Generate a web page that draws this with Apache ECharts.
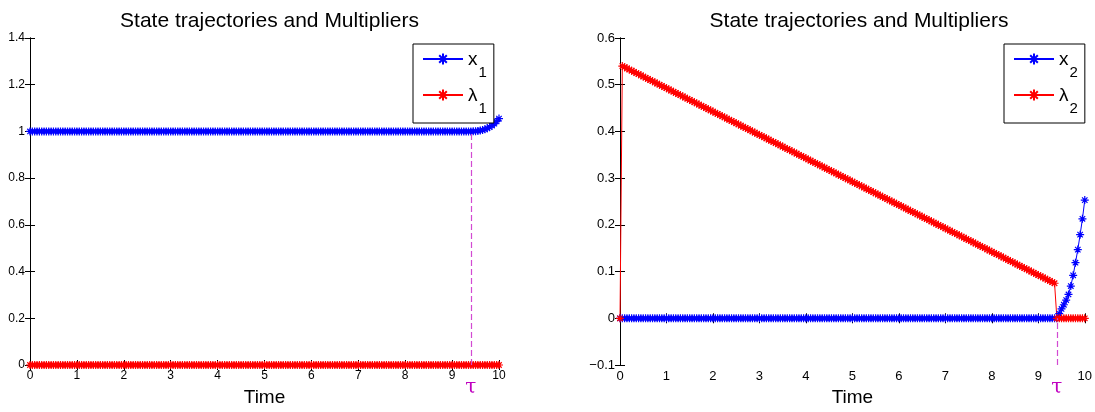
<!DOCTYPE html>
<html><head><meta charset="utf-8">
<script src="https://cdn.jsdelivr.net/npm/echarts@6/dist/echarts.min.js"></script>
<style>html,body{margin:0;padding:0;background:#fff}#c{width:1095px;height:412px}</style>
</head><body><div id="c"></div>
<script>
// ---- data ----
const time = [
  0,0.05,0.1,0.15,0.2,0.25,0.3,0.35,0.4,0.45,0.5,0.55,0.6,0.65,0.7,0.75,0.8,0.85,0.9,0.95,
  1,1.05,1.1,1.15,1.2,1.25,1.3,1.35,1.4,1.45,1.5,1.55,1.6,1.65,1.7,1.75,1.8,1.85,1.9,1.95,
  2,2.05,2.1,2.15,2.2,2.25,2.3,2.35,2.4,2.45,2.5,2.55,2.6,2.65,2.7,2.75,2.8,2.85,2.9,2.95,
  3,3.05,3.1,3.15,3.2,3.25,3.3,3.35,3.4,3.45,3.5,3.55,3.6,3.65,3.7,3.75,3.8,3.85,3.9,3.95,
  4,4.05,4.1,4.15,4.2,4.25,4.3,4.35,4.4,4.45,4.5,4.55,4.6,4.65,4.7,4.75,4.8,4.85,4.9,4.95,
  5,5.05,5.1,5.15,5.2,5.25,5.3,5.35,5.4,5.45,5.5,5.55,5.6,5.65,5.7,5.75,5.8,5.85,5.9,5.95,
  6,6.05,6.1,6.15,6.2,6.25,6.3,6.35,6.4,6.45,6.5,6.55,6.6,6.65,6.7,6.75,6.8,6.85,6.9,6.95,
  7,7.05,7.1,7.15,7.2,7.25,7.3,7.35,7.4,7.45,7.5,7.55,7.6,7.65,7.7,7.75,7.8,7.85,7.9,7.95,
  8,8.05,8.1,8.15,8.2,8.25,8.3,8.35,8.4,8.45,8.5,8.55,8.6,8.65,8.7,8.75,8.8,8.85,8.9,8.95,
  9,9.05,9.1,9.15,9.2,9.25,9.3,9.35,9.4,9.45,9.5,9.55,9.6,9.65,9.7,9.75,9.8,9.85,9.9,9.95,
  10
];
const x1 = [
  1,1,1,1,1,1,1,1,1,1, 1,1,1,1,1,1,1,1,1,1,
  1,1,1,1,1,1,1,1,1,1, 1,1,1,1,1,1,1,1,1,1,
  1,1,1,1,1,1,1,1,1,1, 1,1,1,1,1,1,1,1,1,1,
  1,1,1,1,1,1,1,1,1,1, 1,1,1,1,1,1,1,1,1,1,
  1,1,1,1,1,1,1,1,1,1, 1,1,1,1,1,1,1,1,1,1,
  1,1,1,1,1,1,1,1,1,1, 1,1,1,1,1,1,1,1,1,1,
  1,1,1,1,1,1,1,1,1,1, 1,1,1,1,1,1,1,1,1,1,
  1,1,1,1,1,1,1,1,1,1, 1,1,1,1,1,1,1,1,1,1,
  1,1,1,1,1,1,1,1,1,1, 1,1,1,1,1,1,1,1,1,1,
  1,1,1,1,1,1,1,1,1,1.0003, 1.001,1.0022,1.0039,1.0062,1.0092,1.0132,1.0185,1.0252,1.0334,1.0432,
  1.0549
];
const lambda1 = [
  0,0,0,0,0,0,0,0,0,0, 0,0,0,0,0,0,0,0,0,0,
  0,0,0,0,0,0,0,0,0,0, 0,0,0,0,0,0,0,0,0,0,
  0,0,0,0,0,0,0,0,0,0, 0,0,0,0,0,0,0,0,0,0,
  0,0,0,0,0,0,0,0,0,0, 0,0,0,0,0,0,0,0,0,0,
  0,0,0,0,0,0,0,0,0,0, 0,0,0,0,0,0,0,0,0,0,
  0,0,0,0,0,0,0,0,0,0, 0,0,0,0,0,0,0,0,0,0,
  0,0,0,0,0,0,0,0,0,0, 0,0,0,0,0,0,0,0,0,0,
  0,0,0,0,0,0,0,0,0,0, 0,0,0,0,0,0,0,0,0,0,
  0,0,0,0,0,0,0,0,0,0, 0,0,0,0,0,0,0,0,0,0,
  0,0,0,0,0,0,0,0,0,0, 0,0,0,0,0,0,0,0,0,0,
  0
];
const x2 = [
  0,0,0,0,0,0,0,0,0,0, 0,0,0,0,0,0,0,0,0,0,
  0,0,0,0,0,0,0,0,0,0, 0,0,0,0,0,0,0,0,0,0,
  0,0,0,0,0,0,0,0,0,0, 0,0,0,0,0,0,0,0,0,0,
  0,0,0,0,0,0,0,0,0,0, 0,0,0,0,0,0,0,0,0,0,
  0,0,0,0,0,0,0,0,0,0, 0,0,0,0,0,0,0,0,0,0,
  0,0,0,0,0,0,0,0,0,0, 0,0,0,0,0,0,0,0,0,0,
  0,0,0,0,0,0,0,0,0,0, 0,0,0,0,0,0,0,0,0,0,
  0,0,0,0,0,0,0,0,0,0, 0,0,0,0,0,0,0,0,0,0,
  0,0,0,0,0,0,0,0,0,0, 0,0,0,0,0,0,0,0,0,0,
  0,0,0,0,0,0,0,0,0,0.01, 0.02,0.029,0.039,0.051,0.069,0.092,0.119,0.147,0.179,0.213,
  0.253
];
const lambda2 = [
  0,0.54,0.5375,0.535,0.5325,0.53,0.5275,0.525,0.5225,0.52, 0.5175,0.515,0.5125,0.51,0.5075,0.505,0.5025,0.5,0.4975,0.495,
  0.4925,0.49,0.4875,0.485,0.4825,0.48,0.4775,0.475,0.4725,0.47, 0.4675,0.465,0.4625,0.46,0.4575,0.455,0.4525,0.45,0.4475,0.445,
  0.4425,0.44,0.4375,0.435,0.4325,0.43,0.4275,0.425,0.4225,0.42, 0.4175,0.415,0.4125,0.41,0.4075,0.405,0.4025,0.4,0.3975,0.395,
  0.3925,0.39,0.3875,0.385,0.3825,0.38,0.3775,0.375,0.3725,0.37, 0.3675,0.365,0.3625,0.36,0.3575,0.355,0.3525,0.35,0.3475,0.345,
  0.3425,0.34,0.3375,0.335,0.3325,0.33,0.3275,0.325,0.3225,0.32, 0.3175,0.315,0.3125,0.31,0.3075,0.305,0.3025,0.3,0.2975,0.295,
  0.2925,0.29,0.2875,0.285,0.2825,0.28,0.2775,0.275,0.2725,0.27, 0.2675,0.265,0.2625,0.26,0.2575,0.255,0.2525,0.25,0.2475,0.245,
  0.2425,0.24,0.2375,0.235,0.2325,0.23,0.2275,0.225,0.2225,0.22, 0.2175,0.215,0.2125,0.21,0.2075,0.205,0.2025,0.2,0.1975,0.195,
  0.1925,0.19,0.1875,0.185,0.1825,0.18,0.1775,0.175,0.1725,0.17, 0.1675,0.165,0.1625,0.16,0.1575,0.155,0.1525,0.15,0.1475,0.145,
  0.1425,0.14,0.1375,0.135,0.1325,0.13,0.1275,0.125,0.1225,0.12, 0.1175,0.115,0.1125,0.11,0.1075,0.105,0.1025,0.1,0.0975,0.095,
  0.0925,0.09,0.0875,0.085,0.0825,0.08,0.0775,0.075,0,0, 0,0,0,0,0,0,0,0,0,0,
  0
];
const tau = 9.4;
const xRange = [0, 10, 1];          // min, max, interval
const y1Range = [0, 1.4, 0.2];
const y2Range = [-0.1, 0.6, 0.1];
const titleText = 'State trajectories and Multipliers';
const xLabelText = 'Time';
const tauText = 'τ';

// ---- drawing ----
const FONT = 'Liberation Sans, Arial, Helvetica, sans-serif';
const STAR = 'path://M5,0L5,10M0,5L10,5M1.6,1.6L8.4,8.4M1.6,8.4L8.4,1.6';
const BLUE = '#0000ff', RED = '#ff0000', MAG = '#d24ad2';
const fmtTick = v => { const r = Math.round(v * 10) / 10; return r < 0 ? '\u2212' + Math.abs(r) : String(r); };

function pairs(ys) { return time.map((t, i) => [t, ys[i]]); }

function xAxes(grid, fs) {
  return [
    { type: 'value', gridIndex: grid, min: xRange[0], max: xRange[1], interval: xRange[2], position: 'bottom',
      axisLine: { lineStyle: { color: '#000', width: 1 } },
      axisTick: { inside: true, length: 5, lineStyle: { color: '#000' } },
      axisLabel: { color: '#000', fontSize: fs, fontFamily: FONT, margin: 5, formatter: fmtTick },
      splitLine: { show: false },
      name: xLabelText, nameLocation: 'middle', nameGap: 23,
      nameTextStyle: { color: '#000', fontSize: 19, fontFamily: FONT } },
    { type: 'value', gridIndex: grid, min: xRange[0], max: xRange[1], interval: xRange[2], position: 'top',
      axisLine: { lineStyle: { color: '#000', width: 1 } },
      axisTick: { inside: true, length: 5, lineStyle: { color: '#000' } },
      axisLabel: { show: false }, splitLine: { show: false } }
  ];
}
function yAxes(grid, range, fs) {
  return [
    { type: 'value', gridIndex: grid, min: range[0], max: range[1], interval: range[2], position: 'left',
      axisLine: { show: true, lineStyle: { color: '#000', width: 1 } },
      axisTick: { show: true, inside: true, length: 5, lineStyle: { color: '#000' } },
      axisLabel: { color: '#000', fontSize: fs, fontFamily: FONT, margin: 5, formatter: fmtTick },
      splitLine: { show: false } },
    { type: 'value', gridIndex: grid, min: range[0], max: range[1], interval: range[2], position: 'right',
      axisLine: { show: true, lineStyle: { color: '#000', width: 1 } },
      axisTick: { show: true, inside: true, length: 5, lineStyle: { color: '#000' } },
      axisLabel: { show: false }, splitLine: { show: false } }
  ];
}
function lineSeries(name, ys, color, xi, yi, extra) {
  return Object.assign({
    type: 'line', name, data: pairs(ys), xAxisIndex: xi, yAxisIndex: yi,
    symbol: STAR, symbolSize: 8, showSymbol: true, showAllSymbol: true, clip: false,
    lineStyle: { color, width: 1 },
    itemStyle: { color, borderColor: color, borderWidth: 1.2 },
    emphasis: { disabled: true }, animation: false
  }, extra || {});
}
function tauLine(y0, y1) {
  return {
    silent: true, symbol: ['none', 'none'], animation: false,
    lineStyle: { color: MAG, type: [6, 3], width: 1.2, opacity: 1 },
    label: { show: true, position: 'start', formatter: tauText, color: '#c000c0', fontSize: 20,
             fontFamily: 'DejaVu Serif, Liberation Serif, serif', distance: 13 },
    data: [[{ coord: [tau, y0] }, { coord: [tau, y1] }]]
  };
}
const legendBase = {
  orient: 'vertical', top: 44, itemWidth: 40, itemHeight: 14, itemGap: 1,
  padding: [6, 7, 2, 9], backgroundColor: '#fff', borderColor: '#000', borderWidth: 1,
  borderRadius: 0, selectedMode: false,
  formatter: n => '{a|' + n[0] + '}{b|' + n.slice(1) + '}',
  textStyle: { color: '#000', fontFamily: FONT,
    rich: { a: { fontSize: 19, lineHeight: 18, verticalAlign: 'top', fontFamily: FONT, color: '#000' },
            b: { fontSize: 15, lineHeight: 14, verticalAlign: 'top', padding: [15, 0, 5, 1], fontFamily: FONT, color: '#000' } } }
};

const chart = echarts.init(document.getElementById('c'), null, { renderer: 'canvas' });
chart.setOption({
  backgroundColor: '#fff',
  animation: false,
  title: [
    { text: titleText, left: 264.5, top: 6, textAlign: 'center',
      textStyle: { fontSize: 21, fontWeight: 'normal', color: '#000', fontFamily: FONT } },
    { text: titleText, left: 854, top: 6, textAlign: 'center',
      textStyle: { fontSize: 21, fontWeight: 'normal', color: '#000', fontFamily: FONT } }
  ],
  grid: [
    { left: 30, top: 38, width: 469, height: 329 },
    { left: 620, top: 38, width: 468, height: 330 }
  ],
  xAxis: [].concat(xAxes(0, 12), xAxes(1, 13)),
  yAxis: [].concat(yAxes(0, y1Range, 12), yAxes(1, y2Range, 13)),
  legend: [
    Object.assign({}, legendBase, { left: 413, data: ['x1', 'λ1'] }),
    Object.assign({}, legendBase, { left: 1004, data: ['x2', 'λ2'] })
  ],
  series: [
    lineSeries('x1', x1, BLUE, 0, 0, { markLine: tauLine(0, 1) }),
    lineSeries('λ1', lambda1, RED, 0, 0),
    lineSeries('x2', x2, BLUE, 2, 2, { markLine: tauLine(-0.1, 0) }),
    lineSeries('λ2', lambda2, RED, 2, 2)
  ]
});
</script></body></html>
